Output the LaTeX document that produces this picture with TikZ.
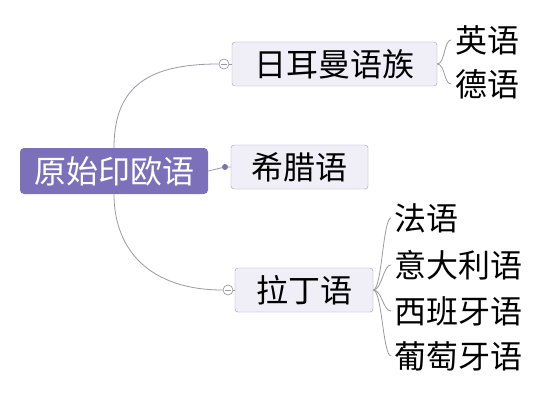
\documentclass[tikz,border=0pt]{standalone}
\usepackage{fontspec}
\setmainfont{Noto Sans CJK SC}
\usetikzlibrary{positioning}
\definecolor{rootfill}{HTML}{7B70B9}
\definecolor{boxfill}{HTML}{F0EFF8}
\definecolor{boxline}{HTML}{A09CB8}
\definecolor{linkgray}{HTML}{9A9AA2}
\begin{document}
\begin{tikzpicture}[
    x=1pt, y=-1pt,
    root/.style={fill=rootfill, rounded corners=4pt, minimum width=188pt, minimum height=46pt, inner sep=0pt, font=\fontsize{32}{32}\selectfont, text=white},
    branch/.style={draw=boxline, fill=boxfill, rounded corners=3pt, minimum height=44pt, inner sep=0pt, font=\fontsize{32}{32}\selectfont},
    leaf/.style={anchor=west, inner sep=0pt, font=\fontsize{32}{32}\selectfont},
    link/.style={draw=linkgray, line width=0.8pt},
    fold/.style={draw=linkgray, fill=white, circle, minimum size=10pt, inner sep=0pt, line width=0.7pt},
]
\useasboundingbox[fill=white] (0,0) rectangle (551,401);
\node[root] (pie) at (114,171) {原始印欧语};
\node[branch, minimum width=205pt] (germ) at (334.5,64) {日耳曼语族};
\node[branch, minimum width=137pt] (greek) at (299.5,167) {希腊语};
\node[branch, minimum width=138pt] (latin) at (304,290) {拉丁语};
% collapse markers
\node[fold] (fg) at (224,64) {};
\draw[linkgray, line width=0.7pt] (fg.west)++(2pt,0) -- ++(6pt,0);
\node[fold] (fl) at (228,290) {};
\draw[linkgray, line width=0.7pt] (fl.west)++(2pt,0) -- ++(6pt,0);
\node[circle, fill=rootfill!80!gray, minimum size=6pt, inner sep=0pt] (dg) at (225,167) {};
% leaves
\node[leaf] (en) at (455,40) {英语};
\node[leaf] (de) at (455,84) {德语};
\node[leaf] (fr) at (394,218) {法语};
\node[leaf] (it) at (394,265) {意大利语};
\node[leaf] (es) at (394,311) {西班牙语};
\node[leaf] (pt) at (394,356) {葡萄牙语};
% connectors
\draw[link] (pie.north) .. controls (114,85) and (150,64) .. (fg.west);
\draw[link] (pie.south) .. controls (114,250) and (150,290) .. (fl.west);
\draw[link] (fg) -- (germ.west);
\draw[link] (fl) -- (latin.west);
\draw[link] (pie.east) -- (dg) -- (greek.west);
\foreach \lf in {en,de}
  \draw[link] (germ.east) .. controls (445,64) and (444,0|-\lf.west) .. ([xshift=-4pt]\lf.west);
\foreach \lf in {fr,it,es,pt}
  \draw[link] (latin.east) .. controls (382,290) and (383,0|-\lf.west) .. ([xshift=-3pt]\lf.west);
\end{tikzpicture}
\end{document}
